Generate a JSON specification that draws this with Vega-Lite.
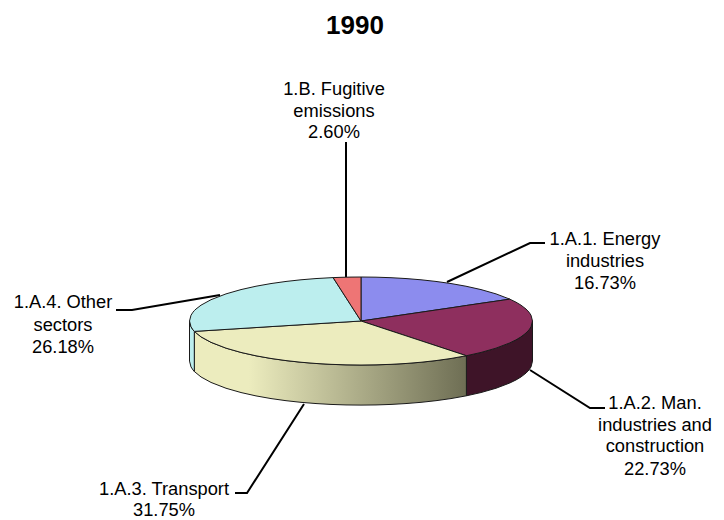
{"$schema":"https://vega.github.io/schema/vega-lite/v6.json","width":724,"height":520,"padding":0,"autosize":{"type":"none"},"background":"white","config":{"view":{"stroke":null}},
"title":{"text":"1990","font":"Liberation Sans","fontWeight":"bold","fontSize":26,"color":"#000000","anchor":"middle","baseline":"alphabetic","offset":0,"dy":60,"dx":-7},
"datasets":{
"faces":[
{"slice":"1.A.1","x":0,"top":45,"bottom":0},{"slice":"1.A.1","x":15,"top":44.83,"bottom":2.26},{"slice":"1.A.1","x":30,"top":44.31,"bottom":4.5},{"slice":"1.A.1","x":45,"top":43.42,"bottom":6.8},{"slice":"1.A.1","x":60,"top":42.16,"bottom":9},{"slice":"1.A.1","x":75,"top":40.47,"bottom":11.3},{"slice":"1.A.1","x":90,"top":38.31,"bottom":13.5},{"slice":"1.A.1","x":105,"top":35.58,"bottom":15.8},{"slice":"1.A.1","x":120,"top":32.15,"bottom":18.1},{"slice":"1.A.1","x":135,"top":27.75,"bottom":20.3},{"slice":"1.A.1","x":148.8,"top":22.37,"bottom":22.37},
{"slice":"1.A.2","x":0,"top":0,"bottom":0},{"slice":"1.A.2","x":30,"top":4.5,"bottom":-10.1},{"slice":"1.A.2","x":60,"top":9,"bottom":-20.2},{"slice":"1.A.2","x":90,"top":13.5,"bottom":-30.3},{"slice":"1.A.2","x":105.4,"top":15.9,"bottom":-35.5},{"slice":"1.A.2","x":120,"top":18.1,"bottom":-32.15},{"slice":"1.A.2","x":135,"top":20.3,"bottom":-27.75},{"slice":"1.A.2","x":148.8,"top":22.37,"bottom":-22.37},{"slice":"1.A.2","x":155,"top":19.26,"bottom":-19.26},{"slice":"1.A.2","x":160,"top":16.2,"bottom":-16.2},{"slice":"1.A.2","x":165,"top":12.27,"bottom":-12.27},{"slice":"1.A.2","x":168,"top":9.05,"bottom":-9.05},{"slice":"1.A.2","x":170,"top":5.94,"bottom":-5.94},{"slice":"1.A.2","x":171.5,"top":0,"bottom":0},
{"slice":"1.A.3","x":-166.7,"top":-10.6,"bottom":-10.6},{"slice":"1.A.3","x":-160,"top":-10.18,"bottom":-16.2},{"slice":"1.A.3","x":-150,"top":-9.54,"bottom":-21.81},{"slice":"1.A.3","x":-135,"top":-8.59,"bottom":-27.75},{"slice":"1.A.3","x":-120,"top":-7.63,"bottom":-32.15},{"slice":"1.A.3","x":-105,"top":-6.68,"bottom":-35.58},{"slice":"1.A.3","x":-90,"top":-5.72,"bottom":-38.31},{"slice":"1.A.3","x":-75,"top":-4.77,"bottom":-40.47},{"slice":"1.A.3","x":-60,"top":-3.82,"bottom":-42.16},{"slice":"1.A.3","x":-45,"top":-2.86,"bottom":-43.42},{"slice":"1.A.3","x":-30,"top":-1.91,"bottom":-44.31},{"slice":"1.A.3","x":-15,"top":-0.95,"bottom":-44.83},{"slice":"1.A.3","x":0,"top":0,"bottom":-45},{"slice":"1.A.3","x":15,"top":-5.05,"bottom":-44.83},{"slice":"1.A.3","x":30,"top":-10.1,"bottom":-44.31},{"slice":"1.A.3","x":45,"top":-15.16,"bottom":-43.42},{"slice":"1.A.3","x":60,"top":-20.2,"bottom":-42.16},{"slice":"1.A.3","x":75,"top":-25.26,"bottom":-40.47},{"slice":"1.A.3","x":90,"top":-30.3,"bottom":-38.31},{"slice":"1.A.3","x":105.4,"top":-35.5,"bottom":-35.5},
{"slice":"1.A.4","x":-171.5,"top":0,"bottom":0},{"slice":"1.A.4","x":-170,"top":5.94,"bottom":-5.94},{"slice":"1.A.4","x":-168,"top":9.05,"bottom":-9.05},{"slice":"1.A.4","x":-166.7,"top":10.6,"bottom":-10.6},{"slice":"1.A.4","x":-165,"top":12.27,"bottom":-10.49},{"slice":"1.A.4","x":-160,"top":16.2,"bottom":-10.18},{"slice":"1.A.4","x":-150,"top":21.81,"bottom":-9.54},{"slice":"1.A.4","x":-135,"top":27.75,"bottom":-8.59},{"slice":"1.A.4","x":-120,"top":32.15,"bottom":-7.63},{"slice":"1.A.4","x":-105,"top":35.58,"bottom":-6.68},{"slice":"1.A.4","x":-90,"top":38.31,"bottom":-5.72},{"slice":"1.A.4","x":-75,"top":40.47,"bottom":-4.77},{"slice":"1.A.4","x":-60,"top":42.16,"bottom":-3.82},{"slice":"1.A.4","x":-45,"top":43.42,"bottom":-2.86},{"slice":"1.A.4","x":-27.9,"top":44.4,"bottom":-1.77},{"slice":"1.A.4","x":-20,"top":31.8,"bottom":-1.27},{"slice":"1.A.4","x":-10,"top":15.9,"bottom":-0.64},{"slice":"1.A.4","x":0,"top":0,"bottom":0},
{"slice":"1.B","x":-27.9,"top":44.4,"bottom":44.4},{"slice":"1.B","x":-20,"top":44.69,"bottom":31.8},{"slice":"1.B","x":-10,"top":44.92,"bottom":15.9},{"slice":"1.B","x":0,"top":45,"bottom":0}
],
"sides":[
{"slice":"1.A.2","x":105.4,"top":-35.5,"bottom":-76.5},{"slice":"1.A.2","x":120,"top":-32.15,"bottom":-73.15},{"slice":"1.A.2","x":135,"top":-27.75,"bottom":-68.75},{"slice":"1.A.2","x":148.8,"top":-22.37,"bottom":-63.37},{"slice":"1.A.2","x":155,"top":-19.26,"bottom":-60.26},{"slice":"1.A.2","x":160,"top":-16.2,"bottom":-57.2},{"slice":"1.A.2","x":165,"top":-12.27,"bottom":-53.27},{"slice":"1.A.2","x":168,"top":-9.05,"bottom":-50.05},{"slice":"1.A.2","x":170,"top":-5.94,"bottom":-46.94},{"slice":"1.A.2","x":171.5,"top":0,"bottom":-41},
{"slice":"1.A.3","x":-166.7,"top":-10.6,"bottom":-51.6},{"slice":"1.A.3","x":-160,"top":-16.2,"bottom":-57.2},{"slice":"1.A.3","x":-150,"top":-21.81,"bottom":-62.81},{"slice":"1.A.3","x":-135,"top":-27.75,"bottom":-68.75},{"slice":"1.A.3","x":-120,"top":-32.15,"bottom":-73.15},{"slice":"1.A.3","x":-105,"top":-35.58,"bottom":-76.58},{"slice":"1.A.3","x":-90,"top":-38.31,"bottom":-79.31},{"slice":"1.A.3","x":-75,"top":-40.47,"bottom":-81.47},{"slice":"1.A.3","x":-60,"top":-42.16,"bottom":-83.16},{"slice":"1.A.3","x":-45,"top":-43.42,"bottom":-84.42},{"slice":"1.A.3","x":-30,"top":-44.31,"bottom":-85.31},{"slice":"1.A.3","x":-15,"top":-44.83,"bottom":-85.83},{"slice":"1.A.3","x":0,"top":-45,"bottom":-86},{"slice":"1.A.3","x":15,"top":-44.83,"bottom":-85.83},{"slice":"1.A.3","x":30,"top":-44.31,"bottom":-85.31},{"slice":"1.A.3","x":45,"top":-43.42,"bottom":-84.42},{"slice":"1.A.3","x":60,"top":-42.16,"bottom":-83.16},{"slice":"1.A.3","x":75,"top":-40.47,"bottom":-81.47},{"slice":"1.A.3","x":90,"top":-38.31,"bottom":-79.31},{"slice":"1.A.3","x":105.4,"top":-35.5,"bottom":-76.5},
{"slice":"1.A.4","x":-171.5,"top":0,"bottom":-41},{"slice":"1.A.4","x":-170,"top":-5.94,"bottom":-46.94},{"slice":"1.A.4","x":-168,"top":-9.05,"bottom":-50.05},{"slice":"1.A.4","x":-166.7,"top":-10.6,"bottom":-51.6}
],
"leaders":[
{"leader":"1.B","seq":1,"x":-15,"y":183.1},{"leader":"1.B","seq":2,"x":-15,"y":45},
{"leader":"1.A.1","seq":1,"x":86,"y":39.9},{"leader":"1.A.1","seq":2,"x":169,"y":79.8},{"leader":"1.A.1","seq":3,"x":184,"y":79.8},
{"leader":"1.A.2","seq":1,"x":169,"y":-50.1},{"leader":"1.A.2","seq":2,"x":229,"y":-89},{"leader":"1.A.2","seq":3,"x":244,"y":-89},
{"leader":"1.A.3","seq":1,"x":-57,"y":-84.9},{"leader":"1.A.3","seq":2,"x":-114,"y":-175.9},{"leader":"1.A.3","seq":3,"x":-126,"y":-175.9},
{"leader":"1.A.4","seq":1,"x":-141,"y":26.6},{"leader":"1.A.4","seq":2,"x":-229,"y":11.2},{"leader":"1.A.4","seq":3,"x":-245,"y":11.2}
],
"labels":[
{"x":-27,"y":231.1,"label":"1.B. Fugitive"},{"x":-27,"y":209.1,"label":"emissions"},{"x":-27,"y":187.2,"label":"2.60%"},
{"x":244,"y":77.3,"label":"1.A.1. Energy"},{"x":244,"y":54.8,"label":"industries"},{"x":244,"y":32.3,"label":"16.73%"},
{"x":294,"y":-89.5,"label":"1.A.2. Man."},{"x":294,"y":-112,"label":"industries and"},{"x":294,"y":-134.4,"label":"construction"},{"x":294,"y":-157,"label":"22.73%"},
{"x":-197,"y":-177.9,"label":"1.A.3. Transport"},{"x":-197,"y":-199.4,"label":"31.75%"},
{"x":-298,"y":12.8,"label":"1.A.4. Other"},{"x":-298,"y":-9.7,"label":"sectors"},{"x":-298,"y":-32.2,"label":"26.18%"}
]},
"encoding":{
"x":{"field":"x","type":"quantitative","axis":null,"scale":{"domain":[-361,363],"nice":false,"zero":false}},
"y":{"type":"quantitative","axis":null,"scale":{"domain":[-203.5,328.3],"nice":false,"zero":false}}
},
"layer":[
{"data":{"name":"leaders"},"mark":{"type":"line","color":"#000000","strokeWidth":2},"encoding":{"y":{"field":"y","type":"quantitative","axis":null},"detail":{"field":"leader"},"order":{"field":"seq","type":"quantitative"}}},
{"data":{"name":"sides"},"transform":[{"filter":"datum.slice==='1.A.2'"}],"mark":{"type":"area","orient":"vertical","fill":"#3E1428","stroke":"#1a1a1a","strokeWidth":1},"encoding":{"y":{"field":"top","type":"quantitative","axis":null},"y2":{"field":"bottom"}}},
{"data":{"name":"sides"},"transform":[{"filter":"datum.slice==='1.A.3'"}],"mark":{"type":"area","orient":"vertical","stroke":"#1a1a1a","strokeWidth":1,"fill":{"gradient":"linear","x1":0,"x2":1,"y1":0,"y2":0,"stops":[{"offset":0,"color":"#ECECBE"},{"offset":0.2,"color":"#ECECBE"},{"offset":1,"color":"#6E6E54"}]}},"encoding":{"y":{"field":"top","type":"quantitative","axis":null},"y2":{"field":"bottom"}}},
{"data":{"name":"sides"},"transform":[{"filter":"datum.slice==='1.A.4'"}],"mark":{"type":"area","orient":"vertical","fill":"#BCEEEE","stroke":"#1a1a1a","strokeWidth":1},"encoding":{"y":{"field":"top","type":"quantitative","axis":null},"y2":{"field":"bottom"}}},
{"data":{"name":"faces"},"mark":{"type":"area","orient":"vertical","stroke":"#1a1a1a","strokeWidth":1,"fillOpacity":1},"encoding":{"y":{"field":"top","type":"quantitative","axis":null},"y2":{"field":"bottom"},"fill":{"field":"slice","type":"nominal","legend":null,"scale":{"domain":["1.A.1","1.A.2","1.A.3","1.A.4","1.B"],"range":["#8C8CEE","#8E2F5E","#ECECBE","#BCEEEE","#EE7575"]}}}},
{"data":{"name":"labels"},"mark":{"type":"text","font":"Liberation Sans","fontSize":18.3,"color":"#000000","align":"center","baseline":"alphabetic"},"encoding":{"y":{"field":"y","type":"quantitative","axis":null},"text":{"field":"label"}}}
]}
